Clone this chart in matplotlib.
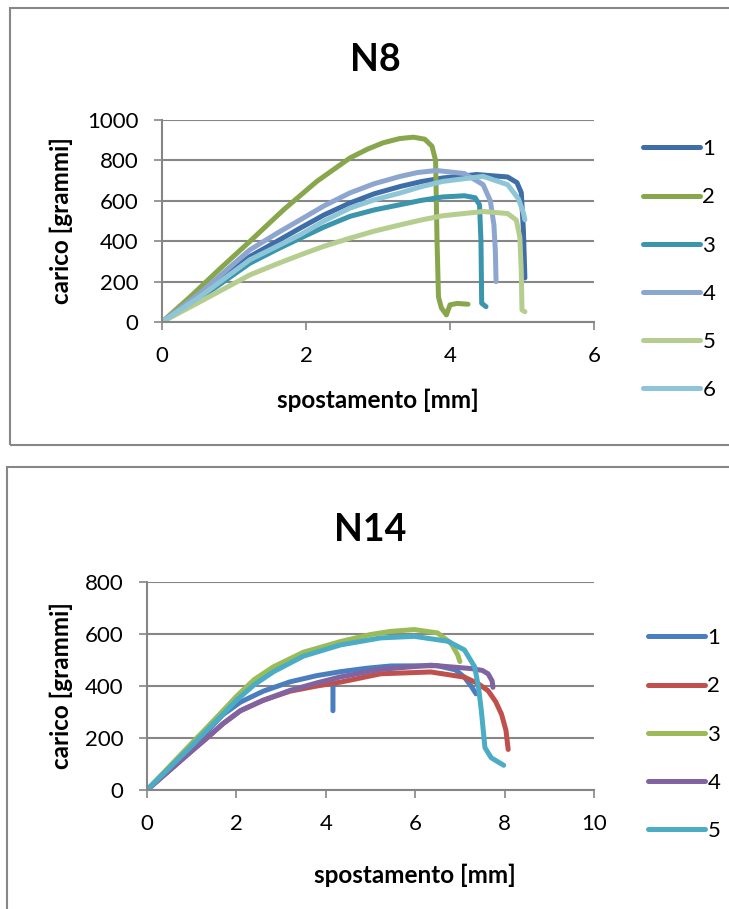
import numpy as np
import matplotlib
matplotlib.use('Agg')
import matplotlib.pyplot as plt
from matplotlib.patches import Rectangle

plt.rcParams['font.family'] = ['Lato', 'DejaVu Sans']

# ---- N8 data (spostamento [mm], carico [grammi]) ----
n8_x1 = [0, 0.5, 1.22, 1.6, 1.92, 2.25, 2.61, 2.95, 3.31, 3.6, 3.9, 4.37, 4.8, 4.93, 4.99, 5.02, 5.04]
n8_y1 = [0, 125, 324, 400, 465, 530, 589, 635, 671, 695, 713, 730, 718, 690, 640, 450, 218]
n8_x2 = [0, 0.39, 0.8, 1.22, 1.69, 2.15, 2.61, 2.85, 3.07, 3.3, 3.49, 3.65, 3.75, 3.8, 3.82, 3.84, 3.88, 3.95, 4.0, 4.1, 4.25]
n8_y2 = [0, 124, 262, 399, 556, 696, 812, 855, 887, 908, 915, 905, 870, 800, 400, 124, 70, 35, 85, 92, 88]
n8_x3 = [0, 0.5, 1.22, 1.6, 1.92, 2.25, 2.61, 2.95, 3.31, 3.6, 3.9, 4.2, 4.35, 4.41, 4.43, 4.44, 4.5]
n8_y3 = [0, 110, 291, 360, 415, 470, 523, 555, 581, 602, 619, 625, 615, 580, 400, 93, 76]
n8_x4 = [0, 0.5, 1.22, 1.6, 1.92, 2.25, 2.61, 2.95, 3.31, 3.55, 3.81, 4.2, 4.46, 4.56, 4.61, 4.63, 4.64]
n8_y4 = [0, 135, 357, 440, 506, 575, 639, 685, 721, 740, 750, 735, 680, 600, 480, 350, 200]
n8_x5 = [0, 0.5, 1.22, 1.6, 1.92, 2.25, 2.61, 2.95, 3.31, 3.6, 3.9, 4.46, 4.8, 4.92, 4.97, 4.99, 5.0, 5.04]
n8_y5 = [0, 95, 233, 288, 332, 375, 415, 450, 481, 505, 526, 547, 537, 505, 420, 250, 60, 51]
n8_x6 = [0, 0.5, 1.22, 1.6, 1.92, 2.25, 2.61, 2.95, 3.31, 3.6, 3.9, 4.46, 4.8, 4.95, 5.02, 5.04]
n8_y6 = [0, 118, 308, 375, 432, 500, 564, 605, 639, 670, 696, 721, 680, 610, 540, 506]

# ---- N14 data ----
n14_x1 = [0, 0.5, 1.0, 1.34, 1.7, 2.09, 2.6, 3.2, 3.8, 4.33, 4.9, 5.45, 6.5, 6.9, 7.1, 7.25, 7.36,
          np.nan, 4.16, 4.16, 4.22]
n14_y1 = [0, 85, 170, 225, 290, 338, 380, 416, 440, 455, 468, 477, 478, 462, 434, 400, 370,
          np.nan, 305, 402, 408]
n14_x2 = [0, 0.5, 1.0, 1.34, 1.7, 2.09, 2.6, 3.2, 3.8, 4.33, 5.23, 6.35, 7.1, 7.4, 7.63, 7.8, 7.93, 8.03, 8.08]
n14_y2 = [0, 75, 150, 200, 255, 305, 345, 380, 400, 415, 447, 454, 434, 410, 382, 340, 292, 230, 156]
n14_x3 = [0, 0.5, 1.0, 1.34, 1.7, 2.0, 2.4, 2.83, 3.5, 4.33, 5.0, 5.45, 5.98, 6.5, 6.8, 6.95, 7.0]
n14_y3 = [0, 90, 180, 240, 305, 360, 425, 474, 530, 571, 598, 610, 617, 604, 565, 520, 494]
n14_x4 = [0, 0.5, 1.0, 1.34, 1.7, 2.09, 2.6, 3.2, 3.8, 4.33, 5.23, 6.35, 7.25, 7.5, 7.63, 7.72, 7.74]
n14_y4 = [0, 75, 150, 200, 255, 305, 345, 383, 412, 435, 464, 480, 467, 460, 447, 420, 395]
n14_x5 = [0, 0.5, 1.0, 1.34, 1.7, 2.0, 2.4, 2.83, 3.5, 4.33, 5.23, 5.98, 6.73, 7.1, 7.33, 7.42, 7.48, 7.56, 7.7, 7.98]
n14_y5 = [0, 85, 170, 230, 292, 345, 405, 455, 515, 558, 585, 591, 572, 539, 474, 390, 305, 163, 124, 95]

n8_colors = ['#3F6DA8', '#88A64C', '#3A95AD', '#8DA6D0', '#B6CD90', '#8EC5D7']
n14_colors = ['#4A7EBF', '#C0504D', '#9BBB59', '#8064A2', '#4BACC6']

W, H = 729, 909
fig = plt.figure(figsize=(W / 100, H / 100), dpi=100)

# chart borders
fig.add_artist(Rectangle((10 / W, 1 - 445 / H), 730 / W, 437 / H, transform=fig.transFigure,
                         fill=False, edgecolor='#878787', lw=1.5))
fig.add_artist(Rectangle((7 / W, 1 - 915 / H), 730 / W, 448 / H, transform=fig.transFigure,
                         fill=False, edgecolor='#878787', lw=1.5))


def style_axes(ax):
    for s in ['top', 'right']:
        ax.spines[s].set_visible(False)
    for s in ['left', 'bottom']:
        ax.spines[s].set_color('#868686')
        ax.spines[s].set_linewidth(1.5)
    ax.grid(axis='y', color='#868686', lw=1.5)
    ax.set_axisbelow(True)
    ax.tick_params(length=6, width=1.2, color='#868686', labelsize=16, pad=11)


def add_legend(ax, x_anchor, y_anchor):
    ax.legend(loc='upper left', bbox_to_anchor=(x_anchor, y_anchor), bbox_transform=fig.transFigure,
              frameon=False, fontsize=16, handlelength=2.55, handletextpad=0.12,
              labelspacing=1.27, borderpad=0)


# ---- N8 ----
ax1 = fig.add_axes([162 / W, 1 - 322 / H, 432 / W, 202 / H])
style_axes(ax1)
n8 = [(n8_x1, n8_y1), (n8_x2, n8_y2), (n8_x3, n8_y3), (n8_x4, n8_y4), (n8_x5, n8_y5), (n8_x6, n8_y6)]
for i, (x, y) in enumerate(n8):
    ax1.plot(x, y, color=n8_colors[i], lw=3.6, solid_capstyle='round', solid_joinstyle='round', label=str(i + 1))
ax1.set_xlim(0, 6)
ax1.set_ylim(0, 1000)
ax1.set_xticks([0, 2, 4, 6])
ax1.set_yticks([0, 200, 400, 600, 800, 1000])
ax1.set_xlabel('spostamento [mm]', fontsize=17.5, fontweight='bold', va='top')
ax1.xaxis.set_label_coords(0.5, -0.33)
ax1.set_ylabel('carico [grammi]', fontsize=17.5, fontweight='bold')
ax1.yaxis.set_label_coords(-0.205, 0.5)
add_legend(ax1, 632 / W, 1 - 128 / H)
fig.text(375 / W, 1 - 60 / H, 'N8', fontsize=27, fontweight='bold', ha='center', va='center')

# ---- N14 ----
ax2 = fig.add_axes([147 / W, 1 - 790 / H, 447 / W, 208 / H])
style_axes(ax2)
n14 = [(n14_x1, n14_y1), (n14_x2, n14_y2), (n14_x3, n14_y3), (n14_x4, n14_y4), (n14_x5, n14_y5)]
for i, (x, y) in enumerate(n14):
    ax2.plot(x, y, color=n14_colors[i], lw=3.6, solid_capstyle='round', solid_joinstyle='round', label=str(i + 1))
ax2.set_xlim(0, 10)
ax2.set_ylim(0, 800)
ax2.set_xticks([0, 2, 4, 6, 8, 10])
ax2.set_yticks([0, 200, 400, 600, 800])
ax2.set_xlabel('spostamento [mm]', fontsize=17.5, fontweight='bold', va='top')
ax2.xaxis.set_label_coords(0.6, -0.355)
ax2.set_ylabel('carico [grammi]', fontsize=17.5, fontweight='bold')
ax2.yaxis.set_label_coords(-0.165, 0.5)
add_legend(ax2, 637 / W, 1 - 617 / H)
fig.text(370 / W, 1 - 530 / H, 'N14', fontsize=27, fontweight='bold', ha='center', va='center')

fig.savefig('out.png', dpi=100)
